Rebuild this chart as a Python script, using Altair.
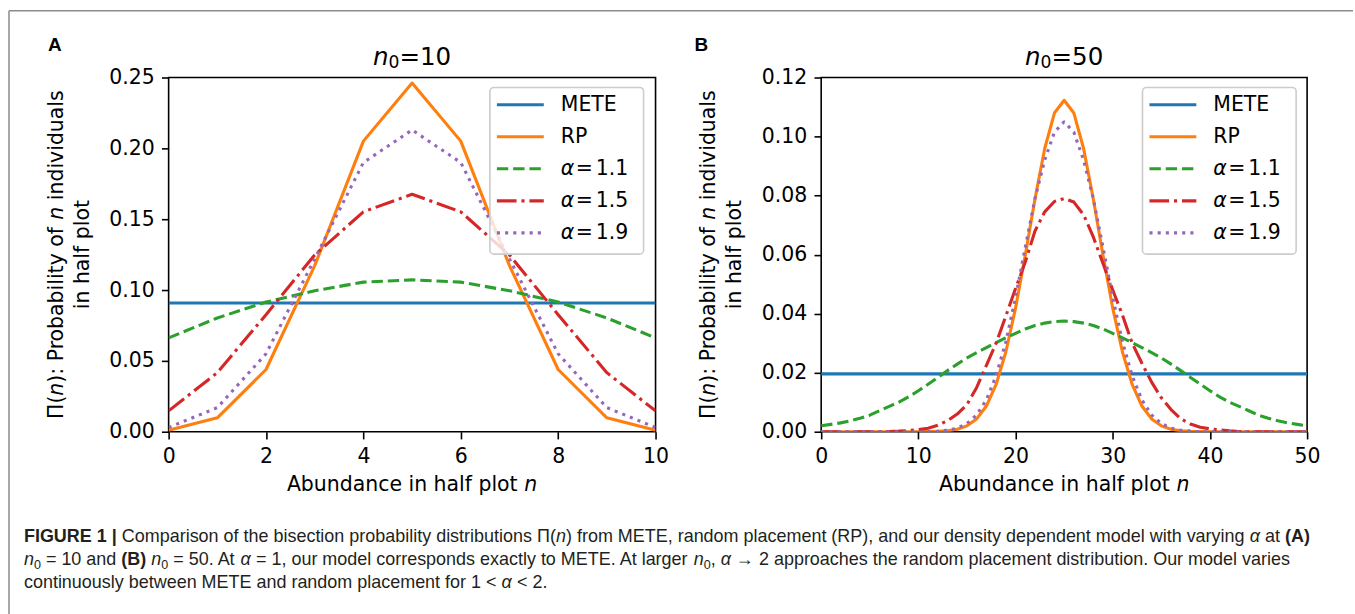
import altair as alt
import pandas as pd

# ---------------- data ----------------
n_a = [0, 1, 2, 3, 4, 5, 6, 7, 8, 9, 10]
mete_a = [0.0909, 0.0909, 0.0909, 0.0909, 0.0909, 0.0909, 0.0909, 0.0909, 0.0909, 0.0909, 0.0909]
rp_a = [0.0010, 0.0098, 0.0439, 0.1172, 0.2051, 0.2461, 0.2051, 0.1172, 0.0439, 0.0098, 0.0010]
a11_a = [0.0662, 0.0803, 0.0915, 0.0995, 0.1056, 0.1072, 0.1056, 0.0995, 0.0915, 0.0803, 0.0662]
a15_a = [0.0147, 0.0417, 0.0826, 0.1248, 0.1552, 0.1676, 0.1552, 0.1248, 0.0826, 0.0417, 0.0147]
a19_a = [0.0030, 0.0170, 0.0550, 0.1220, 0.1900, 0.2130, 0.1900, 0.1220, 0.0550, 0.0170, 0.0030]

n_b = [0, 1, 2, 3, 4, 5, 6, 7, 8, 9, 10, 11, 12, 13, 14, 15, 16, 17, 18, 19, 20,
       21, 22, 23, 24, 25, 26, 27, 28, 29, 30, 31, 32, 33, 34, 35, 36, 37, 38, 39, 40,
       41, 42, 43, 44, 45, 46, 47, 48, 49, 50]
mete_b = [0.0196, 0.0196, 0.0196, 0.0196, 0.0196, 0.0196, 0.0196, 0.0196, 0.0196, 0.0196,
          0.0196, 0.0196, 0.0196, 0.0196, 0.0196, 0.0196, 0.0196, 0.0196, 0.0196, 0.0196,
          0.0196, 0.0196, 0.0196, 0.0196, 0.0196, 0.0196, 0.0196, 0.0196, 0.0196, 0.0196,
          0.0196, 0.0196, 0.0196, 0.0196, 0.0196, 0.0196, 0.0196, 0.0196, 0.0196, 0.0196,
          0.0196, 0.0196, 0.0196, 0.0196, 0.0196, 0.0196, 0.0196, 0.0196, 0.0196, 0.0196,
          0.0196]
rp_b = [0.0, 0.0, 0.0, 0.0, 0.0, 0.0, 0.0, 0.0, 0.0, 0.0, 0.0,
        0.00003, 0.00011, 0.00032, 0.00083, 0.00199, 0.00434, 0.00871, 0.01601, 0.02702, 0.04186,
        0.05980, 0.07883, 0.09596, 0.10796, 0.11228, 0.10796, 0.09596, 0.07883, 0.05980, 0.04186,
        0.02702, 0.01601, 0.00871, 0.00434, 0.00199, 0.00083, 0.00032, 0.00011, 0.00003, 0.0,
        0.0, 0.0, 0.0, 0.0, 0.0, 0.0, 0.0, 0.0, 0.0, 0.0]
a11_b = [0.0020, 0.0025, 0.0030, 0.0037, 0.0046, 0.0056, 0.0071, 0.0086, 0.0100, 0.0118,
         0.0139, 0.0161, 0.0184, 0.0207, 0.0229, 0.0250, 0.0268, 0.0285, 0.0302, 0.0318,
         0.0333, 0.0348, 0.0360, 0.0368, 0.0373, 0.0375, 0.0373, 0.0368, 0.0360, 0.0348,
         0.0333, 0.0318, 0.0302, 0.0285, 0.0268, 0.0250, 0.0229, 0.0207, 0.0184, 0.0161,
         0.0139, 0.0118, 0.0100, 0.0086, 0.0071, 0.0056, 0.0046, 0.0037, 0.0030, 0.0025,
         0.0020]
a15_b = [0.0, 0.0, 0.0, 0.0, 0.0, 0.0, 0.0, 0.0001, 0.0002, 0.0004,
         0.0007, 0.0012, 0.0022, 0.0037, 0.0060, 0.0092, 0.0150, 0.0225, 0.0300, 0.0392,
         0.0485, 0.0575, 0.0680, 0.0745, 0.0780, 0.0790, 0.0778, 0.0735, 0.0660, 0.0570,
         0.0480, 0.0395, 0.0300, 0.0232, 0.0168, 0.0115, 0.0075, 0.0044, 0.0026, 0.0015,
         0.0010, 0.0006, 0.0003, 0.0001, 0.0, 0.0, 0.0, 0.0, 0.0, 0.0,
         0.0]
a19_b = [0.0, 0.0, 0.0, 0.0, 0.0, 0.0, 0.0, 0.0, 0.0, 0.0,
         0.0, 0.0, 0.0002, 0.0005, 0.0012, 0.0028, 0.0057, 0.0108, 0.0190, 0.0305,
         0.0455, 0.0625, 0.0790, 0.0920, 0.1015, 0.1050, 0.1015, 0.0920, 0.0790, 0.0625,
         0.0455, 0.0305, 0.0190, 0.0108, 0.0057, 0.0028, 0.0012, 0.0005, 0.0002, 0.0,
         0.0, 0.0, 0.0, 0.0, 0.0, 0.0, 0.0, 0.0, 0.0, 0.0,
         0.0]

series_names = ["METE", "RP", "α = 1.1", "α = 1.5", "α = 1.9"]
x_ticks_a = [0, 2, 4, 6, 8, 10]
y_ticks_a = [0.0, 0.05, 0.10, 0.15, 0.20, 0.25]
x_ticks_b = [0, 10, 20, 30, 40, 50]
y_ticks_b = [0.0, 0.02, 0.04, 0.06, 0.08, 0.10, 0.12]

# ---------------- styles ----------------
COLORS = ["#1f77b4", "#ff7f0e", "#2ca02c", "#d62728", "#9467bd"]
DASHES = [None, None, [11.4, 4.9], [19.7, 4.9, 3.1, 4.9], [3.1, 5.1]]
LW = 3.1
DJ_FONT = "DejaVu Sans"
CAP_FONT = "Liberation Sans"
FS = 20.5      # tick / label font size
TFS = 24.6     # title font size
CFS = 18.0     # caption font size

# canvas layout
CANVAS_W, CANVAS_H = 1355, 614
OX_A, OX_B, OY = 168, 822, 76
W_A, W_B, H = 488, 487, 355

# --------------- font metrics (advance width / em) ---------------
DJ = {' ': .3179, '(': .3901, ')': .3901, ':': .3369, '.': .3179, '=': .8379,
      'A': .6841, 'E': .6318, 'M': .8628, 'P': .6030, 'R': .6948, 'T': .6108,
      'Π': .752, 'α': .659,
      'a': .6128, 'b': .6348, 'c': .5498, 'd': .6348, 'e': .6152, 'f': .3521,
      'h': .6338, 'i': .2778, 'l': .2778, 'n': .6338, 'o': .6118, 'p': .6348,
      'r': .4111, 's': .5210, 't': .3921, 'u': .6338, 'v': .5918, 'y': .5918}
for d in "0123456789":
    DJ[d] = .6362

HV = dict(zip("abcdefghijklmnopqrstuvwxyz",
              [.556, .556, .5, .556, .556, .278, .556, .556, .222, .222, .5, .222, .833,
               .556, .556, .556, .556, .333, .5, .278, .556, .5, .722, .5, .5, .5]))
HV.update(dict(zip("ABCDEFGHIJKLMNOPQRSTUVWXYZ",
                   [.667, .667, .722, .722, .667, .611, .778, .722, .278, .5, .667, .556, .833,
                    .722, .778, .667, .778, .722, .667, .611, .722, .667, .944, .667, .667, .611])))
HV.update({' ': .278, '(': .333, ')': .333, ',': .278, '.': .278, '=': .584, '<': .584,
           '|': .26, 'Π': .722, 'α': .578, '→': 1.0})
for d in "0123456789":
    HV[d] = .556
HB = dict(HV)
HB.update({'A': .722, 'B': .722, 'F': .611, 'G': .778, 'I': .278, 'R': .722, 'U': .722,
           'E': .667, '|': .28, '1': .556, ' ': .278, '(': .333, ')': .333})


def run(segs, tables, sizes):
    """Lay out styled segments along a line; returns [(offset, kind, text)], total."""
    out, pos = [], 0.0
    for text, kind in segs:
        tab, sz = tables[kind], sizes[kind]
        stripped = text.lstrip(' ')
        pos += (len(text) - len(stripped)) * tab[' '] * sz
        out.append((pos, kind, stripped))
        pos += sum(tab.get(c, 0.6) for c in stripped) * sz
    return out, pos


def text_layer(rows, ox, oy, font, size, weight="normal", style="normal", angle=0,
               align="left", baseline="alphabetic", color="black"):
    df = pd.DataFrame({"x": [r[0] - ox for r in rows],
                       "y": [r[1] - oy for r in rows],
                       "t": [r[2] for r in rows]})
    kw = dict(font=font, fontSize=size, fontWeight=weight, fontStyle=style,
              align=align, baseline=baseline, color=color)
    if angle:
        kw["angle"] = angle
    return alt.Chart(df).mark_text(**kw).encode(
        x=alt.X("x:Q", scale=None, axis=None),
        y=alt.Y("y:Q", scale=None, axis=None),
        text=alt.Text("t:N"))


ONE = pd.DataFrame({"a": [0]})


def decorations(ox, width, letter, letter_x, n0_text):
    layers = []
    cx = ox + width / 2.0
    # panel letter
    layers.append(text_layer([(letter_x, 49.5, letter)], ox, OY, CAP_FONT, 19, weight="bold"))
    # title  n_0=10
    segs, tot = run([("n", "i"), ("0", "s"), ("=" + n0_text, "n")],
                    {"i": DJ, "s": DJ, "n": DJ}, {"i": TFS, "s": TFS * 0.7, "n": TFS})
    x0, yb = cx - tot / 2.0, 63.0
    for kind, size, style, dy in [("i", TFS, "italic", 0), ("s", TFS * 0.7, "normal", 3.5),
                                  ("n", TFS, "normal", 0)]:
        rows = [(x0 + o, yb + dy, t) for o, k, t in segs if k == kind]
        layers.append(text_layer(rows, ox, OY, DJ_FONT, size, style=style))
    # x axis title
    segs, tot = run([("Abundance in half plot ", "n"), ("n", "i")],
                    {"n": DJ, "i": DJ}, {"n": FS, "i": FS})
    x0, yb = cx - tot / 2.0, 490.0
    for kind, style in [("n", "normal"), ("i", "italic")]:
        rows = [(x0 + o, yb, t) for o, k, t in segs if k == kind]
        layers.append(text_layer(rows, ox, OY, DJ_FONT, FS, style=style))
    # y axis title (two rotated lines)
    yc = OY + H / 2.0
    line1 = [("Π(", "n"), ("n", "i"), ("): Probability of ", "n"), ("n", "i"), (" individuals", "n")]
    line2 = [("in half plot", "n")]
    rows_n, rows_i = [], []
    for segs_l, xb in [(line1, ox - 106), (line2, ox - 80)]:
        segs, tot = run(segs_l, {"n": DJ, "i": DJ}, {"n": FS, "i": FS})
        ystart = yc + tot / 2.0
        for o, k, t in segs:
            (rows_n if k == "n" else rows_i).append((xb, ystart - o, t))
    layers.append(text_layer(rows_n, ox, OY, DJ_FONT, FS, angle=270))
    layers.append(text_layer(rows_i, ox, OY, DJ_FONT, FS, style="italic", angle=270))
    return layers


def legend_layers():
    layers = [alt.Chart(ONE).mark_rect(fill="white", fillOpacity=0.8, stroke="#cccccc",
                                       strokeWidth=1.6, cornerRadius=4).encode(
        x=alt.value(322), x2=alt.value(476), y=alt.value(10), y2=alt.value(177))]
    row_y = [27.3, 59.4, 91.5, 123.6, 155.7]
    for i, (color, dash) in enumerate(zip(COLORS, DASHES)):
        kw = dict(color=color, strokeWidth=LW)
        if dash:
            kw["strokeDash"] = dash
        layers.append(alt.Chart(ONE).mark_rule(**kw).encode(
            x=alt.value(329), x2=alt.value(376), y=alt.value(row_y[i])))
    plain, ital, eq, num = [], [], [], []
    for i, name in enumerate(series_names):
        if name.startswith("α"):
            ital.append((393, row_y[i], "α"))
            eq.append((408, row_y[i], "="))
            num.append((428, row_y[i], name.split("= ")[1]))
        else:
            plain.append((393, row_y[i], name))
    layers.append(text_layer(plain + eq + num, 0, 0, DJ_FONT, FS, baseline="middle"))
    layers.append(text_layer(ital, 0, 0, DJ_FONT, FS, style="italic", baseline="middle"))
    return layers


def data_layers(ns, series, xmax, xticks, ymax, yticks):
    layers = []
    for vals, color, dash in zip(series, COLORS, DASHES):
        df = pd.DataFrame({"n": ns, "p": vals})
        kw = dict(color=color, strokeWidth=LW, clip=True, strokeJoin="round")
        if dash:
            kw["strokeDash"] = dash
        layers.append(alt.Chart(df).mark_line(**kw).encode(
            x=alt.X("n:Q", scale=alt.Scale(domain=[0, xmax], nice=False, zero=False),
                    axis=alt.Axis(values=xticks, format="d", title=None)),
            y=alt.Y("p:Q", scale=alt.Scale(domain=[0, ymax], nice=False, zero=False),
                    axis=alt.Axis(values=yticks, format=".2f", title=None))))
    return layers


# ---------- page furniture (in panel A coordinates) ----------
furniture = [
    # invisible rect spanning the whole page: fixes the canvas extent
    alt.Chart(ONE).mark_rect(fill="white", opacity=0).encode(
        x=alt.value(-OX_A), x2=alt.value(CANVAS_W - OX_A),
        y=alt.value(-OY), y2=alt.value(CANVAS_H - OY)),
    alt.Chart(ONE).mark_rule(color="#8c8c8c", strokeWidth=1.5).encode(
        x=alt.value(8 - OX_A), x2=alt.value(CANVAS_W - OX_A), y=alt.value(9 - OY)),
    alt.Chart(ONE).mark_rule(color="#8c8c8c", strokeWidth=1.5).encode(
        x=alt.value(8 - OX_A), y=alt.value(9 - OY), y2=alt.value(CANVAS_H - OY)),
]

# caption
cap_lines = [
    [("FIGURE 1 |", "b"), (" Comparison of the bisection probability distributions Π(", "n"), ("n", "i"),
     (") from METE, random placement (RP), and our density dependent model with varying ", "n"),
     ("α", "i"), (" at ", "n"), ("(A)", "b")],
    [("n", "i"), ("0", "s"), (" = 10 and ", "n"), ("(B)", "b"), (" ", "n"), ("n", "i"), ("0", "s"),
     (" = 50. At ", "n"), ("α", "i"), (" = 1, our model corresponds exactly to METE. At larger ", "n"),
     ("n", "i"), ("0", "s"), (", ", "n"), ("α", "i"),
     (" → 2 approaches the random placement distribution. Our model varies", "n")],
    [("continuously between METE and random placement for 1 < ", "n"), ("α", "i"), (" < 2.", "n")],
]
cap_base = [542.0, 565.0, 588.0]
cap_rows = {"n": [], "b": [], "i": [], "s": []}
for segs_l, yb in zip(cap_lines, cap_base):
    segs, tot = run(segs_l, {"n": HV, "b": HB, "i": HV, "s": HV},
                    {"n": CFS, "b": CFS, "i": CFS, "s": CFS * 0.7})
    for o, k, t in segs:
        cap_rows[k].append((23 + o, yb + (4.0 if k == "s" else 0.0), t))
caption = [
    text_layer(cap_rows["n"], OX_A, OY, CAP_FONT, CFS, color="#231f20"),
    text_layer(cap_rows["b"], OX_A, OY, CAP_FONT, CFS, weight="bold", color="#231f20"),
    text_layer(cap_rows["i"], OX_A, OY, CAP_FONT, CFS, style="italic", color="#231f20"),
    text_layer(cap_rows["s"], OX_A, OY, CAP_FONT, CFS * 0.7, color="#231f20"),
]

panel_a = alt.layer(
    *furniture,
    *data_layers(n_a, [mete_a, rp_a, a11_a, a15_a, a19_a], 10, x_ticks_a, 0.25, y_ticks_a),
    *legend_layers(),
    *decorations(OX_A, W_A, "A", 47, "10"),
    *caption,
).properties(width=W_A, height=H)

panel_b = alt.layer(
    *data_layers(n_b, [mete_b, rp_b, a11_b, a15_b, a19_b], 50, x_ticks_b, 0.12, y_ticks_b),
    *legend_layers(),
    *decorations(OX_B, W_B, "B", 695, "50"),
).properties(width=W_B, height=H)

chart = alt.hconcat(panel_a, panel_b, spacing=OX_B - OX_A - W_A, bounds="flush").properties(
    padding=0, background="white"
).configure_axis(
    labelFont=DJ_FONT, labelFontSize=FS, labelColor="black",
    tickColor="black", tickWidth=1.6, tickSize=7.2, labelPadding=7.2,
    domain=False, grid=False, labelFlush=False, labelOverlap=False,
).configure_view(stroke="black", strokeWidth=1.6)

chart.save("out.html", embed_options={"renderer": "svg", "actions": False})
